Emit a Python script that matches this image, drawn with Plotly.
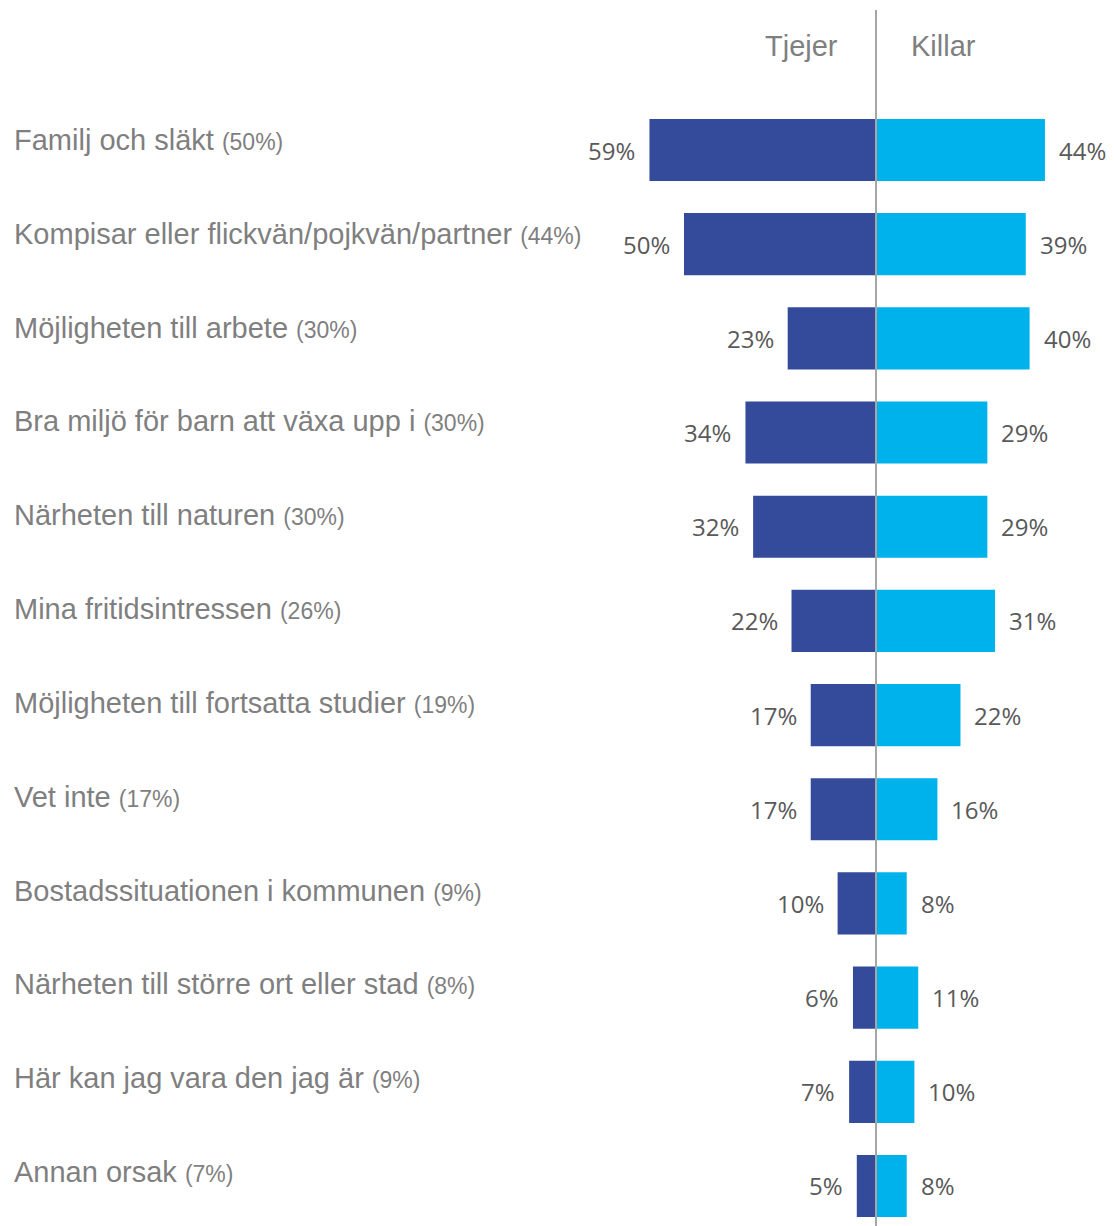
import plotly.graph_objects as go

# Reasons, share of all respondents, and split by gender (percent)
categories = [
    "Familj och släkt",
    "Kompisar eller flickvän/pojkvän/partner",
    "Möjligheten till arbete",
    "Bra miljö för barn att växa upp i",
    "Närheten till naturen",
    "Mina fritidsintressen",
    "Möjligheten till fortsatta studier",
    "Vet inte",
    "Bostadssituationen i kommunen",
    "Närheten till större ort eller stad",
    "Här kan jag vara den jag är",
    "Annan orsak",
]
total = [50, 44, 30, 30, 30, 26, 19, 17, 9, 8, 9, 7]
tjejer = [59, 50, 23, 34, 32, 22, 17, 17, 10, 6, 7, 5]
killar = [44, 39, 40, 29, 29, 31, 22, 16, 8, 11, 10, 8]
series_names = ["Tjejer", "Killar"]

W, H = 1114, 1226
CENTER_PX = 876
SCALE = 3.84  # px per percentage point
ROW0_PX = 150
ROW_STEP = 94.18

DARK = "#344A9B"
LIGHT = "#00B2EC"
GREY_TXT = "#7F7F7F"
NUM_TXT = "#595959"

rows = list(range(len(categories)))

fig = go.Figure()
fig.add_trace(go.Bar(
    y=rows, x=[-v for v in tjejer], orientation="h", name=series_names[0],
    marker=dict(color=DARK, line=dict(width=0)), width=0.66,
    hovertemplate="%{customdata}%<extra>Tjejer</extra>", customdata=tjejer,
))
fig.add_trace(go.Bar(
    y=rows, x=killar, orientation="h", name=series_names[1],
    marker=dict(color=LIGHT, line=dict(width=0)), width=0.66,
    hovertemplate="%{x}%<extra>Killar</extra>",
))

annotations = []
for i, (cat, tot, t, k) in enumerate(zip(categories, total, tjejer, killar)):
    annotations.append(dict(
        x=12 / W, xref="paper", y=i, yref="y", xanchor="left", yanchor="middle",
        yshift=10 + 4 * i / (len(categories) - 1), showarrow=False,
        text=f"{cat} <span style='font-size:23px'>({tot}%)</span>",
        font=dict(family="Liberation Sans, Arial", size=29, color=GREY_TXT),
    ))
    annotations.append(dict(
        x=-t, y=i, xanchor="right", yanchor="middle", xshift=-12, showarrow=False,
        text=f"{t}%", font=dict(family="Open Sans", size=24, color=NUM_TXT),
    ))
    annotations.append(dict(
        x=k, y=i, xanchor="left", yanchor="middle", xshift=12, showarrow=False,
        text=f"{k}%", font=dict(family="Open Sans", size=24, color=NUM_TXT),
    ))

# Column headers either side of the centre line
header_y = (46 - ROW0_PX) / ROW_STEP
annotations.append(dict(
    x=0, y=header_y, xanchor="right", yanchor="middle", xshift=-36, showarrow=False,
    text=series_names[0], font=dict(family="Liberation Sans, Arial", size=29, color=GREY_TXT),
))
annotations.append(dict(
    x=0, y=header_y, xanchor="left", yanchor="middle", xshift=33, showarrow=False,
    text=series_names[1], font=dict(family="Liberation Sans, Arial", size=29, color=GREY_TXT),
))

x_lo = -CENTER_PX / SCALE
x_hi = (W - CENTER_PX) / SCALE
y_top = -ROW0_PX / ROW_STEP
y_bot = (H - ROW0_PX) / ROW_STEP

fig.update_layout(
    width=W, height=H,
    margin=dict(l=0, r=0, t=0, b=0),
    paper_bgcolor="white", plot_bgcolor="white",
    barmode="overlay", showlegend=False,
    xaxis=dict(range=[x_lo, x_hi], visible=False, fixedrange=True),
    yaxis=dict(range=[y_bot, y_top], visible=False, fixedrange=True),
    annotations=annotations,
    shapes=[dict(
        type="line", xref="x", yref="paper", x0=0, x1=0,
        y0=0, y1=1 - 10 / H, line=dict(color="#A6A6A6", width=2), layer="above",
    )],
)

fig.write_html("out.html")
